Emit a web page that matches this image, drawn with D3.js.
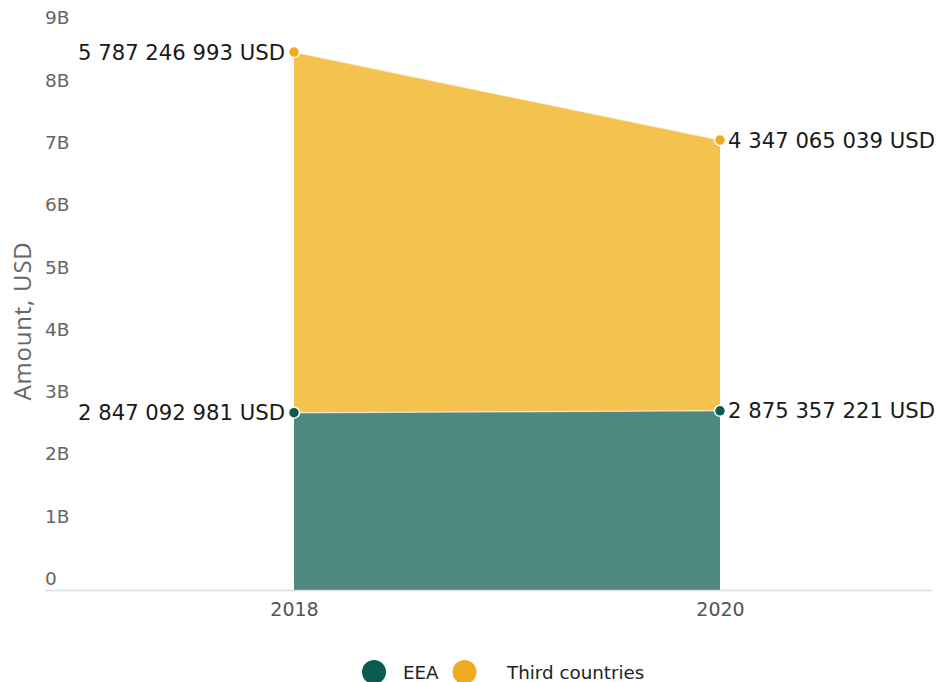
<!DOCTYPE html>
<html>
<head>
<meta charset="utf-8">
<script src="https://cdn.jsdelivr.net/npm/d3@7"></script>
<style>
  html, body { margin: 0; padding: 0; background: #fff; }
  svg { display: block; }
</style>
</head>
<body>
<svg id="chart" width="937" height="682"></svg>
<script>
// Amounts by region, USD
const years = [2018, 2020];
const eea = [2847092981, 2875357221];
const thirdCountries = [5787246993, 4347065039];
const seriesNames = ["EEA", "Third countries"];
const yTicks = [0, 1e9, 2e9, 3e9, 4e9, 5e9, 6e9, 7e9, 8e9, 9e9];

const fillColors = ["#4e887f", "#f4c24e"];
const pointColors = ["#0b5a51", "#eeab1f"];

const svg = d3.select("#chart");
const font = "DejaVu Sans, Verdana, sans-serif";

const x = d3.scaleLinear().domain([2018, 2020]).range([294, 720]);
const y = d3.scaleLinear().domain([0, 9e9]).range([590, 29.3]);

// stacked rows
const rows = years.map((yr, i) => ({ year: yr, eea: eea[i], third: thirdCountries[i] }));
const stack = d3.stack().keys(["eea", "third"]);
const layers = stack(rows);

const area = d3.area()
  .x(d => x(d.data.year))
  .y0(d => y(d[0]))
  .y1(d => y(d[1]));

const topLine = d3.line()
  .x(d => x(d.data.year))
  .y(d => y(d[1]));

layers.forEach((layer, i) => {
  svg.append("path")
    .attr("d", area(layer))
    .attr("fill", fillColors[i]);
});
layers.forEach((layer, i) => {
  svg.append("path")
    .attr("d", topLine(layer))
    .attr("fill", "none")
    .attr("stroke", "#ffffff")
    .attr("stroke-opacity", 0.55)
    .attr("stroke-width", 1.5);
});

// y axis tick labels (left aligned, sitting above each tick)
svg.append("g").selectAll("text")
  .data(yTicks)
  .join("text")
  .attr("x", 45)
  .attr("y", d => y(d) - 5)
  .attr("font-family", font)
  .attr("font-size", 18.5)
  .attr("fill", "#666")
  .text(d => d === 0 ? "0" : (d / 1e9) + "B");

// x axis line
svg.append("line")
  .attr("x1", 45).attr("x2", 932)
  .attr("y1", 590.5).attr("y2", 590.5)
  .attr("stroke", "#d8dde6")
  .attr("stroke-width", 1.5);

// x axis labels
const xAxis = d3.axisBottom(x).tickValues(years).tickFormat(d3.format("d")).tickSize(0).tickPadding(13);
const gx = svg.append("g").attr("transform", "translate(0,590)").call(xAxis);
gx.select(".domain").remove();
gx.selectAll("text")
  .attr("font-family", font)
  .attr("font-size", 19)
  .attr("fill", "#555");

// y axis title
svg.append("text")
  .attr("transform", "translate(31,321) rotate(-90)")
  .attr("text-anchor", "middle")
  .attr("font-family", "Open Sans, sans-serif")
  .attr("font-size", 24)
  .attr("letter-spacing", 0.8)
  .attr("fill", "#666")
  .text("Amount, USD");

// markers and value labels
const fmt = v => d3.format(",")(v).replace(/,/g, " ") + " USD";
layers.forEach((layer, i) => {
  const raw = i === 0 ? eea : thirdCountries;
  layer.forEach((d, j) => {
    const px = x(d.data.year), py = y(d[1]);
    svg.append("circle")
      .attr("cx", px).attr("cy", py).attr("r", 5.5)
      .attr("fill", pointColors[i])
      .attr("stroke", "#fff")
      .attr("stroke-width", 1.5);
    const left = j === 0;
    svg.append("text")
      .attr("x", left ? px - 9 : px + 8)
      .attr("y", py)
      .attr("dy", "0.36em")
      .attr("text-anchor", left ? "end" : "start")
      .attr("font-family", font)
      .attr("font-size", 21.2)
      .attr("fill", "#1a1a1a")
      .text(fmt(raw[j]));
  });
});

// legend
const legendItems = [
  { name: seriesNames[0], cx: 374, tx: 403, color: pointColors[0] },
  { name: seriesNames[1], cx: 464.5, tx: 507, color: pointColors[1] }
];
const lg = svg.append("g");
legendItems.forEach(it => {
  lg.append("circle").attr("cx", it.cx).attr("cy", 672).attr("r", 12).attr("fill", it.color);
  lg.append("text")
    .attr("x", it.tx).attr("y", 672).attr("dy", "0.36em")
    .attr("font-family", font)
    .attr("font-size", 18.3)
    .attr("fill", "#222")
    .text(it.name);
});
</script>
</body>
</html>
